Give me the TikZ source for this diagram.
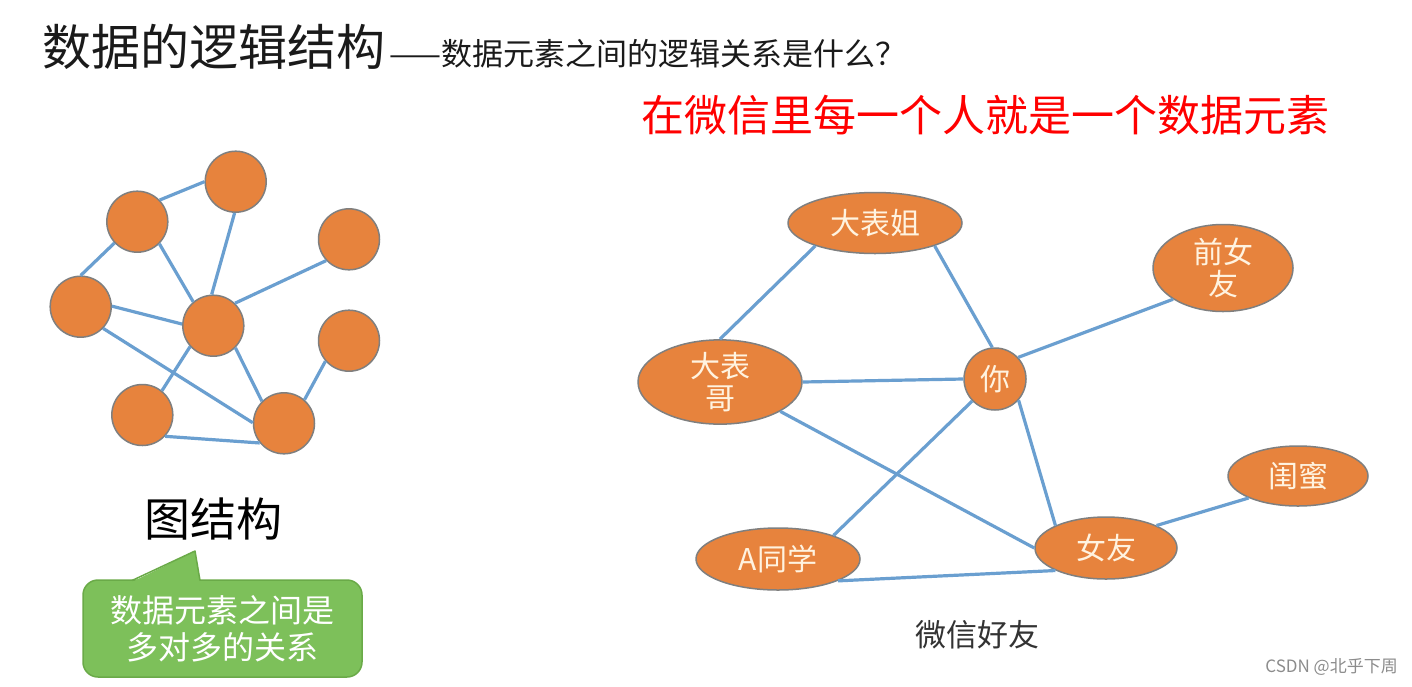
\documentclass[tikz,border=0pt]{standalone}
\usepackage{fontspec}
\setmainfont{Noto Sans CJK SC}
\usetikzlibrary{shapes.geometric}
\definecolor{org}{HTML}{E7833D}
\definecolor{bord}{HTML}{7F7F7F}
\definecolor{edgeblue}{HTML}{6A9FD0}
\definecolor{grn}{HTML}{7DC05A}
\definecolor{grnd}{HTML}{6AAA48}
\definecolor{cream}{HTML}{FFF3E0}
\definecolor{titlec}{HTML}{1A1A1A}
\tikzset{
  gdot/.style={circle, draw=bord, fill=org, line width=1.5pt, minimum size=61pt, inner sep=0pt},
  person/.style={ellipse, draw=bord, fill=org, line width=1.5pt, inner sep=0pt, text=cream,
    font=\fontsize{30}{32}\selectfont, align=center},
  link/.style={draw=edgeblue, line width=3.2pt},
}
\begin{document}
\begin{tikzpicture}[x=1pt,y=-1pt]
\fill[white] (0,0) rectangle (1412,686);
\useasboundingbox (0,0) rectangle (1412,686);

% titles
\node[font=\fontsize{49}{49}\selectfont, text=titlec, anchor=base west, inner sep=0pt] (title) at (42,65) {数据的逻辑结构};
\node[font=\fontsize{31}{31}\selectfont, text=titlec, anchor=base west, inner sep=0pt] (sub) at ([xshift=4pt]title.base east) {——数据元素之间的逻辑关系是什么？};
\node[font=\fontsize{43}{43}\selectfont, text=red, inner sep=0pt] (redline) at (985,115) {在微信里每一个人就是一个数据元素};

% left graph
\node[gdot] (n1) at (235.7,181.7) {};
\node[gdot] (n2) at (137.3,221.7) {};
\node[gdot] (n3) at (349,239.3) {};
\node[gdot] (n4) at (80.7,306.7) {};
\node[gdot] (n5) at (213.3,325.7) {};
\node[gdot] (n6) at (349,340.7) {};
\node[gdot] (n7) at (142.3,415) {};
\node[gdot] (n8) at (284,423.3) {};
\draw[link] (n2.44) -- (n1.180);
\draw[link] (n2.223) -- (n4.90);
\draw[link] (n2.-45) -- (n5.130);
\draw[link] (n1.268) -- (n5.93);
\draw[link] (n3.223) -- (n5.46);
\draw[link] (n4.1) -- (n5.177);
\draw[link] (n4.-44) -- (n8.179);
\draw[link] (n5.222) -- (n7.51);
\draw[link] (n5.-45) -- (n8.135);
\draw[link] (n6.221) -- (n8.49);
\draw[link] (n7.-43) -- (n8.219);

\node[font=\fontsize{46}{46}\selectfont, text=black, inner sep=0pt] (tjg) at (213,519) {图结构};

% callout
\node[draw=grnd, fill=grn, rounded corners=15pt, line width=1.5pt, minimum width=279pt, minimum height=97pt,
  text=white, font=\fontsize{32}{37}\selectfont, align=center, inner sep=0pt] (call) at (222.5,628.5) {数据元素之间是\\多对多的关系};
\fill[grn] (132,582) -- (195,551) -- (200,582) -- cycle;
\draw[grnd, line width=1.5pt, line join=round] (132,580.5) -- (195,551) -- (200,580.5);

% right graph
\node[person, minimum width=174pt, minimum height=61pt] (dbj) at (875,223) {大表姐};
\node[person, minimum width=164pt, minimum height=80pt] (dbg) at (720,382) {大表\\哥};
\node[person, circle, minimum size=62pt] (ni) at (995,379) {你};
\node[person, minimum width=140pt, minimum height=87pt] (qny) at (1223,268) {前女\\友};
\node[person, minimum width=140pt, minimum height=60pt] (gm) at (1298,476) {闺蜜};
\node[person, minimum width=142pt, minimum height=62pt] (nv) at (1106,548) {女友};
\node[person, minimum width=164pt, minimum height=62pt] (as) at (778,559) {A同学};

\draw[link] (dbj.201) -- (dbg.90);
\draw[link] (dbj.-21) -- (ni.95);
\draw[link] (dbg.east) -- (ni.west);
\draw[link] (ni.43) -- (qny.212);
\draw[link] (ni.224) -- (as.23);
\draw[link] (ni.-42) -- (nv.156);
\draw[link] (dbg.-26) -- (nv.west);
\draw[link] (nv.24) -- (gm.204);
\draw[link] (as.-20) -- (nv.204);

\node[font=\fontsize{31}{31}\selectfont, text=black!80, inner sep=0pt] (wx) at (977,635) {微信好友};
\node[font=\fontsize{17}{17}\selectfont, text=black!45, anchor=east, inner sep=0pt] (csdn) at (1398,667) {CSDN @北乎下周};
\end{tikzpicture}
\end{document}
